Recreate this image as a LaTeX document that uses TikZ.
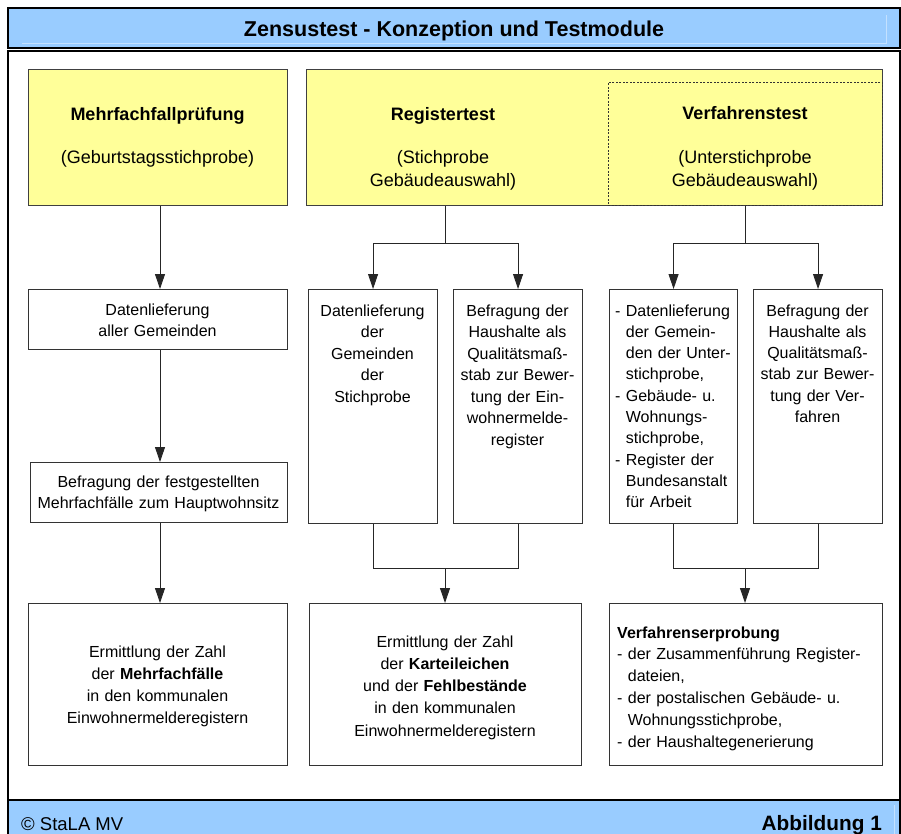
\documentclass[tikz,border=0pt]{standalone}
\usepackage{fontspec}
\setmainfont{Liberation Sans}
\usetikzlibrary{arrows.meta,calc}
\definecolor{hdrblue}{HTML}{99CCFF}
\definecolor{hdrlight}{HTML}{C4E1FF}
\definecolor{hdryellow}{HTML}{FFFF99}
\begin{document}
\begin{tikzpicture}[x=1pt,y=-1pt,
  frame/.style={draw=black,line width=1.3pt},
  ybox/.style={draw=black!75,line width=1.2pt,fill=hdryellow,anchor=north west,inner sep=0pt},
  wbox/.style={draw=black!80,line width=1.1pt,fill=white,anchor=north west,inner sep=0pt},
  body/.style={font=\fontsize{16}{21.5}\selectfont,inner sep=0pt,anchor=base,align=center},
  head/.style={font=\fontsize{18}{23}\selectfont,inner sep=0pt,anchor=base,align=center},
  conn/.style={draw=black!85,line width=0.9pt},
  arr/.style={conn,-{Triangle[length=15pt,width=10pt]}},
]
\useasboundingbox (0,0) rectangle (901,834);
% title band
\fill[hdrblue] (8,8) rectangle (900,48);
\draw[hdrlight,line width=0.8pt] (22,43) -- (886,43) -- (886,15);
\draw[frame] (8,8) rectangle (900,48);
\node[font=\fontsize{21.5}{26}\selectfont\bfseries,anchor=base,inner sep=0pt] (title) at (454,37) {Zensustest - Konzeption und Testmodule};
% main frame
\draw[frame,fill=white] (8,51) rectangle (900,800);
% footer
\fill[hdrblue] (8,800) rectangle (900,834);
\draw[hdrlight,line width=0.8pt] (894,805) -- (894,834);
\draw[frame] (8,834) -- (8,800) -- (900,800) -- (900,834);
\node[font=\fontsize{18.5}{22}\selectfont,anchor=base west,inner sep=0pt] (copy) at (21,830) {© StaLA MV};
\node[font=\fontsize{20.8}{24}\selectfont\bfseries,anchor=base east,inner sep=0pt] (abb) at (882,830) {Abbildung 1};

% yellow header boxes
\node[ybox,minimum width=259pt,minimum height=136pt] (y1) at (28,69) {};
\node[ybox,minimum width=576pt,minimum height=136pt] (y2) at (306,69) {};
\node[draw=black!80,line width=0.8pt,dash pattern=on 2pt off 1.5pt,anchor=north west,inner sep=0pt,minimum width=274pt,minimum height=123pt] (y3) at (608,82) {};
\node[head,text width=255pt] (h1) at (157.5,121) {\textbf{Mehrfachfallprüfung}\\[20pt](Geburtstagsstichprobe)};
\node[head,text width=280pt] (h2) at (443,121) {\textbf{Registertest}\\[20pt](Stichprobe\\Gebäudeauswahl)};
\node[head,text width=270pt] (h3) at (745,120) {\textbf{Verfahrenstest}\\[21pt](Unterstichprobe\\Gebäudeauswahl)};

% column 1
\node[wbox,minimum width=259pt,minimum height=60pt] (a1) at (28,289) {};
\node[body,text width=250pt] (a1t) at (157.5,315) {Datenlieferung\\aller Gemeinden};
\node[wbox,minimum width=257pt,minimum height=60pt] (b1) at (30,462) {};
\node[body,text width=250pt] (b1t) at (158.5,487) {Befragung der festgestellten\\Mehrfachfälle zum Hauptwohnsitz};
\node[wbox,minimum width=259pt,minimum height=162pt] (r1) at (28,603) {};
\node[body,text width=250pt,font=\fontsize{16}{22.3}\selectfont] (r1t) at (157.5,657) {Ermittlung der Zahl\\der \textbf{Mehrfachfälle}\\in den kommunalen\\Einwohnermelderegistern};

% column 2
\node[wbox,minimum width=129pt,minimum height=234pt] (m2a) at (308,289) {};
\node[body,text width=125pt] (m2at) at (372.5,316) {Datenlieferung\\der\\Gemeinden\\der\\Stichprobe};
\node[wbox,minimum width=129pt,minimum height=234pt] (m2b) at (453,289) {};
\node[body,text width=127pt] (m2bt) at (517.5,316) {Befragung der\\Haushalte als\\Qualitätsmaß-\\stab zur Bewer-\\tung der Ein-\\wohnermelde-\\register};
\node[wbox,minimum width=272pt,minimum height=162pt] (r2) at (309,603) {};
\node[body,text width=265pt,font=\fontsize{16}{22.3}\selectfont] (r2t) at (445,647) {Ermittlung der Zahl\\der \textbf{Karteileichen}\\und der \textbf{Fehlbestände}\\in den kommunalen\\Einwohnermelderegistern};

% column 3
\node[wbox,minimum width=128pt,minimum height=234pt] (m3a) at (609,289) {};
\node[body,anchor=base west,align=left,text width=125pt,font=\fontsize{16}{21.3}\selectfont] (m3at) at (615,316) {- Datenlieferung\\\phantom{-}\ der Gemein-\\\phantom{-}\ den der Unter-\\\phantom{-}\ stichprobe,\\- Gebäude- u.\\\phantom{-}\ Wohnungs-\\\phantom{-}\ stichprobe,\\- Register der\\\phantom{-}\ Bundesanstalt\\\phantom{-}\ für Arbeit};
\node[wbox,minimum width=129pt,minimum height=234pt] (m3b) at (753,289) {};
\node[body,text width=127pt,font=\fontsize{16}{21.3}\selectfont] (m3bt) at (817.5,316) {Befragung der\\Haushalte als\\Qualitätsmaß-\\stab zur Bewer-\\tung der Ver-\\fahren};
\node[wbox,minimum width=273pt,minimum height=162pt] (r3) at (609,603) {};
\node[body,anchor=base west,align=left,text width=262pt,font=\fontsize{16}{21.9}\selectfont] (r3t) at (617,638) {\textbf{Verfahrenserprobung}\\- der Zusammenführung Register-\\\phantom{-}\ dateien,\\- der postalischen Gebäude- u.\\\phantom{-}\ Wohnungsstichprobe,\\- der Haushaltegenerierung};

% connector coordinates
\coordinate (x1) at (160,0);
\coordinate (j2) at (445,243);
\coordinate (k2) at (445,568);
\coordinate (j3) at (745,243);
\coordinate (k3) at (745,568);

% column 1 connectors
\draw[arr] (y1.south -| x1) -- (a1.north -| x1);
\draw[arr] (a1.south -| x1) -- (b1.north -| x1);
\draw[arr] (b1.south -| x1) -- (r1.north -| x1);

% column 2 connectors
\draw[conn] (y2.south -| j2) -- (j2);
\draw[conn] (j2 -| m2a) -- (j2 -| m2b);
\draw[arr] (j2 -| m2a) -- (m2a.north);
\draw[arr] (j2 -| m2b) -- (m2b.north);
\draw[conn] (m2a.south) -- (m2a.south |- k2) -- (m2b.south |- k2) -- (m2b.south);
\draw[arr] (k2) -- (r2.north -| k2);

% column 3 connectors
\draw[conn] (y2.south -| j3) -- (j3);
\draw[conn] (j3 -| m3a) -- (j3 -| m3b);
\draw[arr] (j3 -| m3a) -- (m3a.north);
\draw[arr] (j3 -| m3b) -- (m3b.north);
\draw[conn] (m3a.south) -- (m3a.south |- k3) -- (m3b.south |- k3) -- (m3b.south);
\draw[arr] (k3) -- (r3.north -| k3);
\end{tikzpicture}
\end{document}
